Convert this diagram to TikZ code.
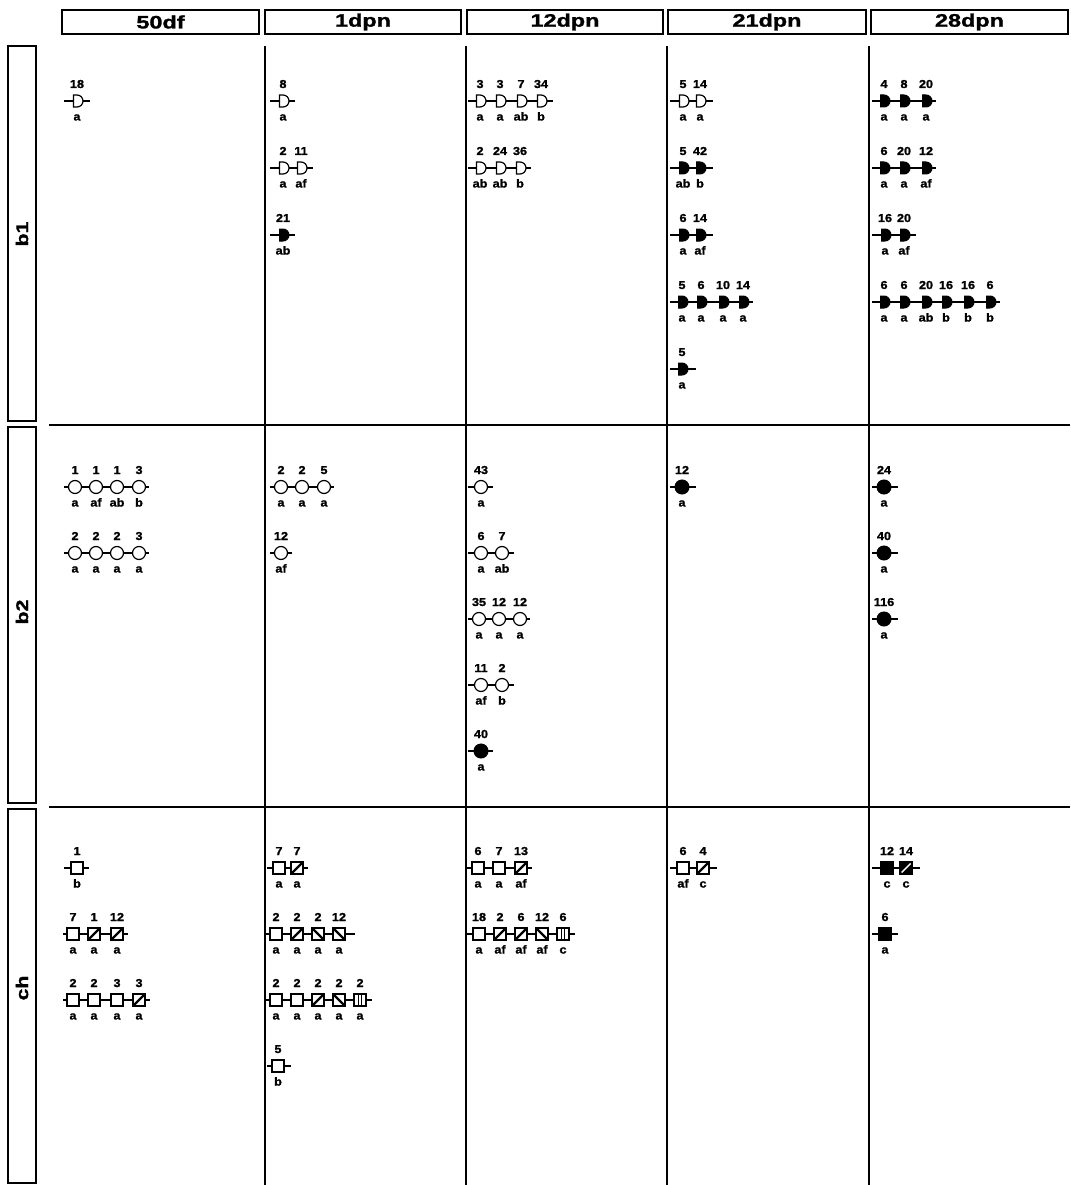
\documentclass[tikz,border=0pt]{standalone}
\usepackage{fontspec}
\setmainfont{Liberation Sans}[BoldFeatures={FakeBold=1.3}]
\newcommand\hstr[2]{\scalebox{#1}[1]{#2}}
\tikzset{
  num/.style={font=\fontsize{11.5}{12}\selectfont\bfseries, inner sep=0pt, anchor=base},
  hdr/.style={draw, line width=1.8pt, font=\fontsize{18}{20}\selectfont\bfseries},
  rowlab/.style={font=\fontsize{17}{20}\selectfont\bfseries, rotate=90},
  grid/.style={line width=1.1pt},
  chainln/.style={line width=1.1pt},
  dopen/.pic={\draw[line width=1.2pt,fill=white] (-3.5pt,6pt) -- (0pt,6pt) arc[start angle=90,end angle=-90,radius=6pt] -- (-3.5pt,-6pt) -- cycle;},
  dfill/.pic={\draw[line width=1pt,fill=black] (-3.5pt,6pt) -- (0pt,6pt) arc[start angle=90,end angle=-90,radius=6pt] -- (-3.5pt,-6pt) -- cycle;},
  copen/.pic={\draw[line width=1.2pt,fill=white] (0,0) circle[radius=6.5pt];},
  cfill/.pic={\draw[line width=1pt,fill=black] (0,0) circle[radius=7pt];},
  sopen/.pic={\draw[line width=1.2pt,fill=white] (-6pt,-6pt) rectangle (6pt,6pt);},
  sslash/.pic={\draw[line width=1.2pt,fill=white] (-6pt,-6pt) rectangle (6pt,6pt);
               \draw[line width=2.4pt] (-5pt,-5pt) -- (5pt,5pt);},
  sback/.pic={\draw[line width=1.2pt,fill=white] (-6pt,-6pt) rectangle (6pt,6pt);
              \draw[line width=2.4pt] (-5pt,5pt) -- (5pt,-5pt);},
  svbar/.pic={\draw[line width=1.2pt,fill=white] (-6pt,-6pt) rectangle (6pt,6pt);
              \draw[line width=1pt] (-1.5pt,-6pt) -- (-1.5pt,6pt) (1.5pt,-6pt) -- (1.5pt,6pt);},
  sfill/.pic={\draw[line width=1.2pt,fill=black] (-6pt,-6pt) rectangle (6pt,6pt);},
  sfslash/.pic={\draw[line width=1.2pt,fill=black] (-6pt,-6pt) rectangle (6pt,6pt);
                \draw[white,line width=1.4pt] (-4.5pt,-4.5pt) -- (4.5pt,4.5pt);},
}
% #1 = y, #2 = line start x, #3 = line end x, #4 = list x/pic/number/letter
\newcommand\chn[4]{%
  \draw[chainln] (#2,#1) -- (#3,#1);
  \foreach \xx/\ss/\nn/\ll in {#4}{
    \pic at (\xx,#1) {\ss};
    \node[num] (n-\xx-#1) at (\xx,#1-13) {\hstr{1.1}{\nn}};
    \node[num] (l-\xx-#1) at (\xx,#1+19.5) {\hstr{1.1}{\ll}};
  }%
}
\begin{document}
\begin{tikzpicture}[x=1pt,y=-1pt]
\useasboundingbox (0,0) rectangle (1070,1185);
\fill[white] (0,0) rectangle (1070,1185);
% headers
\node[hdr, minimum width=197pt, minimum height=24pt] (h1) at (160.5,22) {\hstr{1.3}{50df}};
\node[hdr, minimum width=196pt, minimum height=24pt] (h2) at (363,22) {\hstr{1.3}{1dpn}};
\node[hdr, minimum width=196pt, minimum height=24pt] (h3) at (565,22) {\hstr{1.3}{12dpn}};
\node[hdr, minimum width=198pt, minimum height=24pt] (h4) at (767,22) {\hstr{1.3}{21dpn}};
\node[hdr, minimum width=197pt, minimum height=24pt] (h5) at (969.5,22) {\hstr{1.3}{28dpn}};
% row label boxes
\draw[grid] (8,46) rectangle (36,421);
\draw[grid] (8,427) rectangle (36,803);
\draw[grid] (8,809) rectangle (36,1183);
\node[rowlab] (r1) at (22,234) {\hstr{1.25}{b1}};
\node[rowlab] (r2) at (22,612) {\hstr{1.25}{b2}};
\node[rowlab] (r3) at (22,988) {\hstr{1.25}{ch}};
% grid lines
\foreach \gx in {265,466,667,869} {\draw[grid] (\gx,46) -- (\gx,1185);}
\draw[grid] (49,425) -- (1070,425);
\draw[grid] (49,807) -- (1070,807);
% ---------------- b1 ----------------
\chn{101}{64}{90}{77/dopen/18/a}
\chn{101}{270}{295}{283/dopen/8/a}
\chn{168}{270}{313}{283/dopen/2/a,301/dopen/11/af}
\chn{235}{270}{295}{283/dfill/21/ab}
\chn{101}{468}{553}{480/dopen/3/a,500/dopen/3/a,521/dopen/7/ab,541/dopen/34/b}
\chn{168}{468}{531}{480/dopen/2/ab,500/dopen/24/ab,520/dopen/36/b}
\chn{101}{670}{713}{683/dopen/5/a,700/dopen/14/a}
\chn{168}{670}{713}{683/dfill/5/ab,700/dfill/42/b}
\chn{235}{670}{713}{683/dfill/6/a,700/dfill/14/af}
\chn{302}{670}{753}{682/dfill/5/a,701/dfill/6/a,723/dfill/10/a,743/dfill/14/a}
\chn{369}{670}{696}{682/dfill/5/a}
\chn{101}{872}{936}{884/dfill/4/a,904/dfill/8/a,926/dfill/20/a}
\chn{168}{872}{936}{884/dfill/6/a,904/dfill/20/a,926/dfill/12/af}
\chn{235}{872}{916}{885/dfill/16/a,904/dfill/20/af}
\chn{302}{872}{1000}{884/dfill/6/a,904/dfill/6/a,926/dfill/20/ab,946/dfill/16/b,968/dfill/16/b,990/dfill/6/b}
% ---------------- b2 ----------------
\chn{487}{64}{149}{75/copen/1/a,96/copen/1/af,117/copen/1/ab,139/copen/3/b}
\chn{553}{64}{149}{75/copen/2/a,96/copen/2/a,117/copen/2/a,139/copen/3/a}
\chn{487}{270}{334}{281/copen/2/a,302/copen/2/a,324/copen/5/a}
\chn{553}{270}{292}{281/copen/12/af}
\chn{487}{468}{493}{481/copen/43/a}
\chn{553}{468}{514}{481/copen/6/a,502/copen/7/ab}
\chn{619}{468}{530}{479/copen/35/a,499/copen/12/a,520/copen/12/a}
\chn{685}{468}{514}{481/copen/11/af,502/copen/2/b}
\chn{751}{468}{493}{481/cfill/40/a}
\chn{487}{670}{696}{682/cfill/12/a}
\chn{487}{872}{898}{884/cfill/24/a}
\chn{553}{872}{898}{884/cfill/40/a}
\chn{619}{872}{898}{884/cfill/116/a}
% ---------------- ch ----------------
\chn{868}{64}{89}{77/sopen/1/b}
\chn{934}{63}{128}{73/sopen/7/a,94/sslash/1/a,117/sslash/12/a}
\chn{1000}{63}{150}{73/sopen/2/a,94/sopen/2/a,117/sopen/3/a,139/sslash/3/a}
\chn{868}{267}{308}{279/sopen/7/a,297/sslash/7/a}
\chn{934}{266}{355}{276/sopen/2/a,297/sslash/2/a,318/sback/2/a,339/sback/12/a}
\chn{1000}{266}{372}{276/sopen/2/a,297/sopen/2/a,318/sslash/2/a,339/sback/2/a,360/svbar/2/a}
\chn{1066}{267}{291}{278/sopen/5/b}
\chn{868}{467}{532}{478/sopen/6/a,499/sopen/7/a,521/sslash/13/af}
\chn{934}{467}{575}{479/sopen/18/a,500/sslash/2/af,521/sslash/6/af,542/sback/12/af,563/svbar/6/c}
\chn{868}{670}{717}{683/sopen/6/af,703/sslash/4/c}
\chn{868}{872}{920}{887/sfill/12/c,906/sfslash/14/c}
\chn{934}{872}{898}{885/sfill/6/a}
\end{tikzpicture}
\end{document}
